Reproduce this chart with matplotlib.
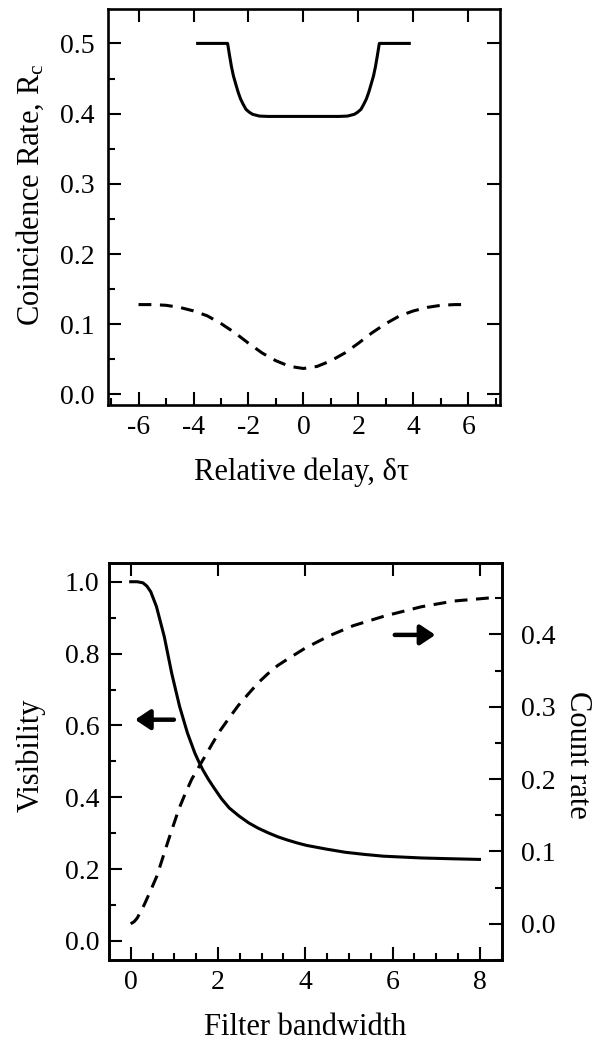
import matplotlib
matplotlib.use('Agg')
import matplotlib.pyplot as plt
from matplotlib.ticker import MultipleLocator, FormatStrFormatter

plt.rcParams['font.family'] = ['Liberation Serif', 'DejaVu Serif']
plt.rcParams['mathtext.fontset'] = 'custom'
plt.rcParams['mathtext.rm'] = 'Liberation Serif'
plt.rcParams['mathtext.it'] = 'Liberation Serif:italic'
plt.rcParams['axes.unicode_minus'] = False

# --- top panel: coincidence rate vs relative delay
delay_solid = [-3.85, -2.76, -2.69, -2.62, -2.55, -2.47, -2.38, -2.29, -2.19, -2.09,
               -1.97, -1.85, -1.6, -1.3, 0.0, 1.3, 1.6, 1.85, 1.97, 2.09, 2.19,
               2.29, 2.38, 2.47, 2.55, 2.62, 2.69, 2.76, 3.85]
rate_solid = [0.500, 0.500, 0.483, 0.467, 0.454, 0.443, 0.431, 0.421, 0.413, 0.406,
              0.402, 0.399, 0.3965, 0.396, 0.396, 0.396, 0.3965, 0.399, 0.402, 0.406, 0.413,
              0.421, 0.431, 0.443, 0.454, 0.467, 0.483, 0.500, 0.500]

delay_dash = [-6.0, -5.5, -5.0, -4.5, -4.0, -3.5, -3.0, -2.5, -2.0, -1.5, -1.0, -0.5, 0.0,
              0.5, 1.0, 1.5, 2.0, 2.5, 3.0, 3.5, 4.0, 4.5, 5.0, 5.5, 6.0]
rate_dash = [0.128, 0.128, 0.127, 0.124, 0.119, 0.112, 0.101, 0.088, 0.073, 0.059, 0.048, 0.040, 0.037,
             0.040, 0.048, 0.059, 0.073, 0.088, 0.101, 0.112, 0.119, 0.124, 0.127, 0.128, 0.128]

# --- bottom panel: visibility and count rate vs filter bandwidth
bw_vis = [0.0, 0.15, 0.28, 0.37, 0.46, 0.59, 0.77, 0.94, 1.12, 1.30, 1.47, 1.56, 1.65, 1.78,
          1.91, 2.08, 2.26, 2.48, 2.70, 2.92, 3.15, 3.37, 3.59, 3.81, 4.03, 4.47, 4.91,
          5.35, 5.79, 6.67, 7.3, 7.99]
visibility = [1.0, 1.0, 0.997, 0.988, 0.972, 0.931, 0.847, 0.745, 0.653, 0.579, 0.523, 0.499,
              0.477, 0.450, 0.426, 0.396, 0.370, 0.348, 0.329, 0.314, 0.301, 0.290, 0.281,
              0.273, 0.266, 0.256, 0.247, 0.241, 0.236, 0.231, 0.229, 0.227]

bw_count = [0.0, 0.08, 0.15, 0.3, 0.45, 0.6, 0.85, 1.1, 1.25, 1.4, 1.65, 1.9, 2.05, 2.25, 2.47,
            2.7, 2.92, 3.15, 3.37, 3.6, 4.0, 4.55, 5.1, 5.8, 6.65, 7.4, 8.35]
count_rate = [0.0, 0.003, 0.008, 0.025, 0.045, 0.066, 0.113, 0.158, 0.180, 0.200, 0.226, 0.252,
              0.267, 0.284, 0.302, 0.318, 0.333, 0.346, 0.357, 0.366, 0.381, 0.398, 0.412,
              0.425, 0.438, 0.446, 0.451]

W, H = 602, 1041
fig = plt.figure(figsize=(W / 100, H / 100), dpi=100)

TICK_FS = 20
LABEL_FS = 22
LW = 2.2
DASH = (4.2, 2.8)


def style(ax):
    for s in ax.spines.values():
        s.set_linewidth(1.9)
    ax.tick_params(which='both', direction='in', width=1.5, labelsize=TICK_FS)
    ax.tick_params(which='major', length=9.5)
    ax.tick_params(which='minor', length=5)


# top axes
ax1 = fig.add_axes([108.3 / W, 1 - 405 / H, (500 - 108.3) / W, (405 - 9) / H])
ax1.plot(delay_solid, rate_solid, color='black', lw=LW, solid_joinstyle='round')
ax1.plot(delay_dash, rate_dash, color='black', lw=LW, dashes=DASH)
ax1.set_xlim(-7.1, 7.15)
ax1.set_ylim(-0.015, 0.549)
ax1.xaxis.set_major_locator(MultipleLocator(2))
ax1.xaxis.set_minor_locator(MultipleLocator(1))
ax1.yaxis.set_major_locator(MultipleLocator(0.1))
ax1.yaxis.set_minor_locator(MultipleLocator(0.05))
ax1.yaxis.set_major_formatter(FormatStrFormatter('%.1f'))
style(ax1)
ax1.tick_params(top=True, right=True)
ax1.tick_params(axis='y', which='minor', right=False)
ax1.tick_params(axis='x', pad=7)
ax1.tick_params(axis='y', pad=10)
ax1.set_xlabel('Relative delay, δτ', fontsize=LABEL_FS, va='center')
ax1.xaxis.set_label_coords(0.494, -0.169)
ax1.set_ylabel(r'Coincidence Rate, R$_{\rm c}$', fontsize=LABEL_FS, va='center')
ax1.yaxis.set_label_coords(-0.2, 0.53)

# bottom axes
ax2 = fig.add_axes([109.3 / W, 1 - 960 / H, (501.7 - 109.3) / W, (960 - 562.7) / H])
ax3 = ax2.twinx()
ax2.plot(bw_vis, visibility, color='black', lw=LW, solid_joinstyle='round')
ax3.plot(bw_count, count_rate, color='black', lw=LW, dashes=DASH)
ax2.set_xlim(-0.49, 8.5)
ax2.set_ylim(-0.053, 1.053)
ax3.set_ylim(-0.050, 0.499)
ax2.xaxis.set_major_locator(MultipleLocator(2))
ax2.xaxis.set_minor_locator(MultipleLocator(0.5))
ax2.yaxis.set_major_locator(MultipleLocator(0.2))
ax2.yaxis.set_minor_locator(MultipleLocator(0.1))
ax2.yaxis.set_major_formatter(FormatStrFormatter('%.1f'))
ax3.yaxis.set_major_locator(MultipleLocator(0.1))
ax3.yaxis.set_minor_locator(MultipleLocator(0.05))
ax3.yaxis.set_major_formatter(FormatStrFormatter('%.1f'))
style(ax2)
style(ax3)
ax2.tick_params(top=True, right=False)
ax2.tick_params(axis='x', pad=7)
ax2.tick_params(axis='y', pad=7)
ax3.tick_params(axis='y', pad=14)

# direction arrows
ax2.annotate('', xy=(0.1, 0.616), xytext=(0.99, 0.616),
             arrowprops=dict(arrowstyle='-|>,head_length=0.45,head_width=0.3',
                             lw=3.2, color='black', mutation_scale=20,
                             shrinkA=0, shrinkB=0))
ax2.annotate('', xy=(6.98, 0.852), xytext=(6.05, 0.852),
             arrowprops=dict(arrowstyle='-|>,head_length=0.45,head_width=0.3',
                             lw=3.2, color='black', mutation_scale=20,
                             shrinkA=0, shrinkB=0))

ax2.set_xlabel('Filter bandwidth', fontsize=LABEL_FS, va='center')
ax2.xaxis.set_label_coords(0.5, -0.169)
ax2.set_ylabel('Visibility', fontsize=LABEL_FS, va='center')
ax2.yaxis.set_label_coords(-0.2, 0.516)
ax3.set_ylabel('Count rate', fontsize=LABEL_FS, rotation=270, va='center')
ax3.yaxis.set_label_coords(1.194, 0.516)

fig.savefig('out.png', dpi=100)
